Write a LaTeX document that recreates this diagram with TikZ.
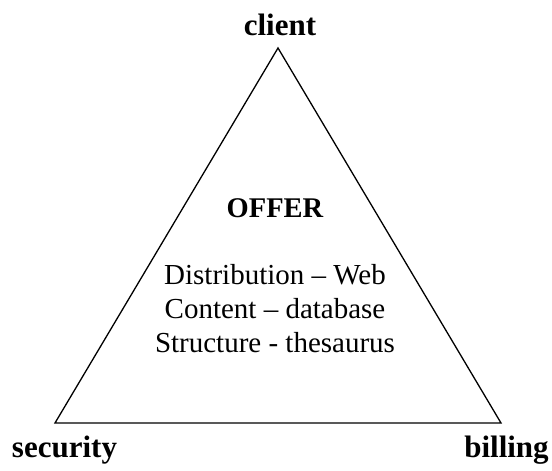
\documentclass[tikz,border=0pt]{standalone}
\usepackage{fontspec}
\setmainfont{Liberation Serif}
\begin{document}
\begin{tikzpicture}[x=1pt,y=-1pt,
  corner/.style={font=\fontsize{31}{34}\selectfont\bfseries, inner sep=0pt, anchor=base},
  heading/.style={font=\fontsize{28.5}{34}\selectfont\bfseries, inner sep=0pt, anchor=base},
  body/.style={font=\fontsize{29}{34}\selectfont, inner sep=0pt, anchor=base}]
\useasboundingbox (0,0) rectangle (552,471);
\coordinate (top) at (278,48);
\coordinate (bl) at (55,423);
\coordinate (br) at (501,423);
\draw[line width=1.3pt, line join=miter] (top) -- (bl) -- (br) -- cycle;
\node[corner] (client) at (280,35) {client};
\node[corner] (security) at (64.5,457) {security};
\node[corner] (billing) at (506.5,457) {billing};
\node[heading] (offer) at (275,217) {OFFER};
\node[body] (dist) at (275,284) {Distribution -- Web};
\node[body] (content) at (275,318) {Content -- database};
\node[body] (struct) at (275,352) {Structure - thesaurus};
\end{tikzpicture}
\end{document}
